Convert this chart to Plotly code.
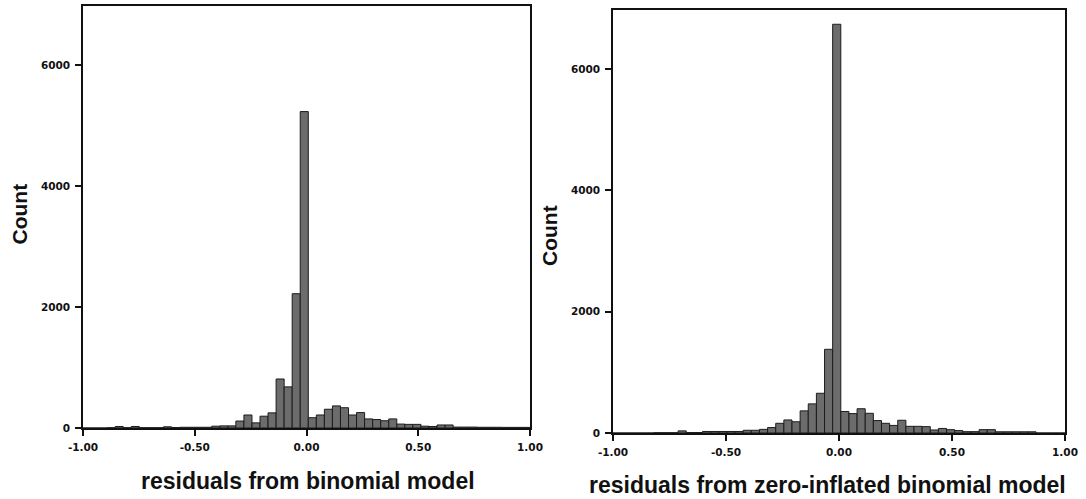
import plotly.graph_objects as go

# ---------------- data ----------------
bin_start = -1.0
bin_width = 0.036

binomial_counts = [
    0, 0, 0, 5, 25, 5, 25, 5, 5, 5,
    20, 8, 12, 12, 12, 12, 30, 35, 35, 115,
    215, 85, 195, 250, 810, 680, 2220, 5230, 170, 215,
    310, 365, 335, 215, 255, 150, 140, 120, 150, 65,
    60, 60, 30, 25, 50, 50, 15, 15, 15, 12,
    12, 12, 10, 10, 10, 10,
]

zib_counts = [
    0, 0, 0, 0, 0, 5, 5, 5, 35, 8,
    8, 25, 25, 25, 25, 25, 45, 45, 60, 90,
    160, 215, 185, 365, 480, 655, 1380, 6740, 355, 320,
    400, 325, 205, 160, 125, 210, 110, 110, 105, 50,
    75, 55, 40, 22, 22, 55, 55, 20, 20, 20,
    20, 20, 0, 0, 0, 0,
]

x_tick_vals = [-1.0, -0.5, 0.0, 0.5, 1.0]
x_tick_text = ["-1.00", "-0.50", "0.00", "0.50", "1.00"]
y_tick_vals = [0, 2000, 4000, 6000]
y_tick_text = ["0", "2000", "4000", "6000"]

left_title = "residuals from binomial model"
right_title = "residuals from zero-inflated binomial model"
y_title = "Count"

# ---------------- figure ----------------
W, H = 1086, 499


def fx(p):
    return p / W


def fy(p):
    return 1 - p / H


def centers(n):
    return [bin_start + bin_width * (i + 0.5) for i in range(n)]


bar_style = dict(
    marker=dict(color="#6c6c6c", line=dict(color="#1c1c1c", width=1)),
    width=bin_width,
    showlegend=False,
    hoverinfo="x+y",
)

fig = go.Figure()
fig.add_trace(go.Bar(x=centers(len(binomial_counts)), y=binomial_counts,
                     xaxis="x", yaxis="y", **bar_style))
fig.add_trace(go.Bar(x=centers(len(zib_counts)), y=zib_counts,
                     xaxis="x2", yaxis="y2", **bar_style))

tick_font = dict(family="DejaVu Sans", size=10.5, color="#111111", weight="bold")

ax_common = dict(
    showline=True, mirror=True, linecolor="#111111", linewidth=1.5,
    ticks="outside", ticklen=6, tickwidth=2, tickcolor="#111111",
    showgrid=False, zeroline=False, tickfont=tick_font,
    ticklabelstandoff=3, automargin=False,
)

fig.update_layout(
    width=W, height=H,
    margin=dict(l=0, r=0, t=0, b=0, autoexpand=False),
    paper_bgcolor="#ffffff",
    plot_bgcolor="#ffffff",
    xaxis=dict(domain=[fx(83), fx(530)], range=[-1, 1], anchor="y",
               tickvals=x_tick_vals, ticktext=x_tick_text, **ax_common),
    yaxis=dict(domain=[fy(428), fy(6)], range=[0, 6975], anchor="x",
               tickvals=y_tick_vals, ticktext=y_tick_text, **ax_common),
    xaxis2=dict(domain=[fx(613), fx(1065)], range=[-1, 1], anchor="y2",
                tickvals=x_tick_vals, ticktext=x_tick_text, **ax_common),
    yaxis2=dict(domain=[fy(433), fy(10)], range=[0, 6975], anchor="x2",
                tickvals=y_tick_vals, ticktext=y_tick_text, **ax_common),
)

title_font = dict(family="Liberation Sans", size=23, color="#111111", weight="bold")
count_font = dict(family="Liberation Sans", size=21, color="#111111", weight="bold")

fig.add_annotation(text=left_title, xref="paper", yref="paper",
                   x=fx(307.5), y=fy(481), xanchor="center", yanchor="middle",
                   showarrow=False, font=title_font)
fig.add_annotation(text=right_title, xref="paper", yref="paper",
                   x=fx(827), y=fy(485), xanchor="center", yanchor="middle",
                   showarrow=False, font=title_font)
fig.add_annotation(text=y_title, xref="paper", yref="paper",
                   x=fx(18.5), y=fy(214), xanchor="center", yanchor="middle",
                   textangle=-90, showarrow=False, font=count_font)
fig.add_annotation(text=y_title, xref="paper", yref="paper",
                   x=fx(549), y=fy(236), xanchor="center", yanchor="middle",
                   textangle=-90, showarrow=False, font=count_font)

fig.write_html("out.html",
               config={"displayModeBar": False},
               post_script="document.body.style.margin='0px';"
                           "document.body.style.overflow='hidden';")
